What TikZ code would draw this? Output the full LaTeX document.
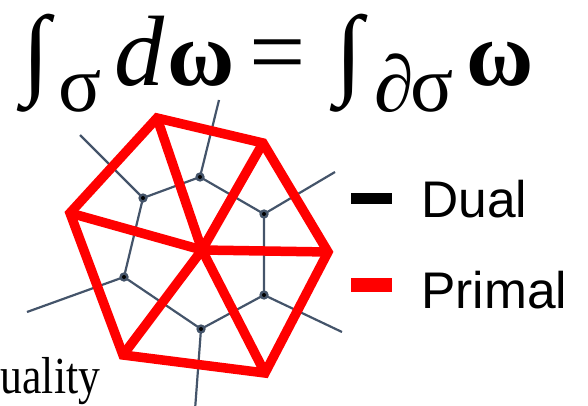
\documentclass[tikz,border=0pt]{standalone}
\usepackage{fontspec}
\setmainfont{Liberation Serif}
\newfontfamily\legendfont{Liberation Sans}
\begin{document}
\begin{tikzpicture}[x=1pt,y=-1pt,
  primal/.style={draw=red, line width=9.5pt, line join=miter, line cap=butt},
  dualedge/.style={draw=dualgray, line width=2.2pt},
  dualdot/.style={circle, fill=black, inner sep=0pt, minimum size=4pt,
    preaction={draw=dualgray, line width=5pt}},
  mainsym/.style={anchor=base west, inner sep=0pt, font=\fontsize{100}{100}\selectfont},
  omsym/.style={anchor=base west, inner sep=0pt, font=\bfseries\fontsize{92}{92}\selectfont},
  subsym/.style={anchor=base west, inner sep=0pt, font=\fontsize{80}{80}\selectfont},
  legendtext/.style={anchor=base west, inner sep=0pt, font=\legendfont\fontsize{51.5}{52}\selectfont},
  legendbar/.style={minimum width=41pt, inner sep=0pt}
]
\definecolor{dualgray}{HTML}{44546A}
\useasboundingbox (0,0) rectangle (588,406);
% primal vertices
\coordinate (p1) at (157,118);
\coordinate (p2) at (263,143);
\coordinate (p3) at (328,252);
\coordinate (p4) at (265,373);
\coordinate (p5) at (123,355);
\coordinate (p6) at (70,213);
\coordinate (c) at (202,250);
% dual vertex positions
\coordinate (d1) at (143,198);
\coordinate (d2) at (200,177);
\coordinate (d3) at (264,214);
\coordinate (d4) at (264,295);
\coordinate (d5) at (201,329);
\coordinate (d6) at (124,277);
% ray ends
\coordinate (r1) at (80,135);
\coordinate (r2) at (219,100);
\coordinate (r3) at (335,172);
\coordinate (r4) at (342,332);
\coordinate (r5) at (195,410);
\coordinate (r6) at (27,312);
% dual edges
\draw[dualedge] (d1) -- (d2) -- (d3) -- (d4) -- (d5) -- (d6) -- cycle;
\foreach \i in {1,...,6} {\draw[dualedge] (d\i) -- (r\i);}
% primal
\draw[primal] (p1) -- (p2) -- (p3) -- (p4) -- (p5) -- (p6) -- cycle;
\foreach \i in {1,...,6} {\draw[primal] (c) -- (p\i);}
% dual dots
\foreach \i in {1,...,6} {\node[dualdot] (dot\i) at (d\i) {};}
% formula
\node[mainsym] (int1) at (22,86) {∫};
\node[subsym] (sig1) at (58,112) {σ};
\node[mainsym] (dd) at (114,86) {\itshape d};
\node[omsym] (om1) at (167,86) {ω};
\node[mainsym] (eq) at (249,86) {=};
\node[mainsym] (int2) at (335,86) {∫};
\node[subsym] (del) at (374,112) {∂};
\node[subsym] (sig2) at (410,112) {σ};
\node[omsym] (om2) at (466,86) {ω};
% legend
\node[legendbar, fill=black, minimum height=11pt] (dualbar) at (371.5,198.5) {};
\node[legendbar, fill=red, minimum height=14pt] (primalbar) at (371.5,285) {};
\node[legendtext] (dualtxt) at (421,217) {Dual};
\node[legendtext] (primaltxt) at (421,308) {Primal};
% label at lower left
\node[anchor=base west, inner sep=0pt, font=\fontsize{52}{52}\selectfont] (duality) at (0.5,393) {\scalebox{0.84}[1]{uality}};
\end{tikzpicture}
\end{document}
